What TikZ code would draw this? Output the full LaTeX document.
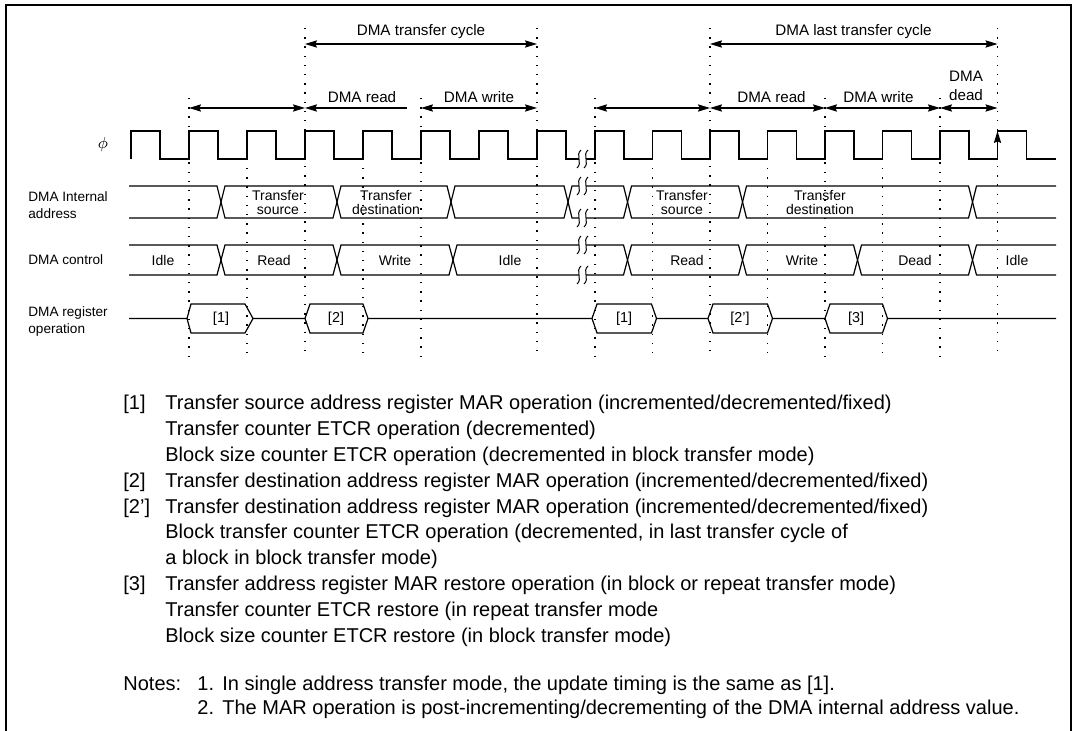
\documentclass[tikz,border=0pt]{standalone}
\usepackage{fontspec}
\setmainfont{Liberation Sans}
\usetikzlibrary{arrows.meta}
\tikzset{
  sig/.style    ={line width=0.6pt, line join=miter},
  guide/.style  ={line width=0.7pt, dash pattern=on 0.7pt off 3.9pt},
  span/.style   ={{Stealth[length=6pt,width=3.6pt,inset=0.8pt]}-{Stealth[length=6pt,width=3.6pt,inset=0.8pt]},
                  line width=0.6pt},
  spanl/.style  ={{Stealth[length=6pt,width=3.6pt,inset=0.8pt]}-, line width=0.6pt},
  cyc/.style    ={font=\fontsize{7.6}{9}\selectfont, align=center, inner sep=0pt},
  row/.style    ={font=\fontsize{6.8}{8.2}\selectfont, align=left, anchor=west,
                  inner sep=0pt},
  val/.style    ={font=\fontsize{7}{6.6}\selectfont, align=center, inner sep=0pt},
  op/.style     ={font=\fontsize{7.2}{8}\selectfont, inner sep=0pt},
  txt/.style    ={font=\fontsize{10}{12.9}\selectfont, anchor=base west,
                  inner sep=0pt},
  brkmark/.pic  ={
    \fill[white] (-1.5,-9) .. controls (-7.5,-4) and (0.5,4) .. (-5.5,9)
      -- (1.5,9) .. controls (7.5,4) and (-0.5,-4) .. (5.5,-9) -- cycle;
    \draw[line width=0.5pt] (-1.5,-9) .. controls (-7.5,-4) and (0.5,4) .. (-5.5,9);
    \draw[line width=0.5pt] (5.5,-9) .. controls (-0.5,-4) and (7.5,4) .. (1.5,9);}
}
\begin{document}
\begin{tikzpicture}[x=0.5pt, y=-0.5pt]
\useasboundingbox (0,0) rectangle (1076,731);
\draw[line width=1pt] (5.5,731) -- (5.5,5.5) -- (1071,5.5) -- (1071,731);

% timing guides
\foreach \x in {305,537,710,997.5} \draw[guide] (\x,28) -- (\x,357);
\foreach \x in {189,421,595,825,940} \draw[guide] (\x,98) -- (\x,357);
\foreach \x in {247,363,652.5,767.5,882.5} \draw[guide] (\x,168) -- (\x,357);

% cycle spans
\coordinate (c1) at (305,44);
\coordinate (c2) at (537,44);
\coordinate (c3) at (710,44);
\coordinate (c4) at (997.5,44);
\draw[span] (c1) -- (c2);
\draw[span] (c3) -- (c4);
\node[cyc] (tcyc) at (421,32) {DMA transfer cycle};
\node[cyc] (tlast) at (853.5,32) {DMA last transfer cycle};

\coordinate (p1) at (189,108);
\coordinate (p2) at (305,108);
\coordinate (p3) at (407,108);
\coordinate (p4) at (421,108);
\coordinate (p5) at (537,108);
\coordinate (q1) at (595,108);
\coordinate (q2) at (710,108);
\coordinate (q3) at (825,108);
\coordinate (q4) at (940,108);
\coordinate (q5) at (997.5,108);
\draw[span] (p1) -- (p2);
\draw[spanl] (p2) -- (p3);
\draw[span] (p4) -- (p5);
\draw[span] (q1) -- (q2);
\draw[span] (q2) -- (q3);
\draw[span] (q3) -- (q4);
\draw[span] (q4) -- (q5);
\node[cyc] (tread1) at (362,97) {DMA read};
\node[cyc] (twrite1) at (479,97) {DMA write};
\node[cyc] (tread2) at (771.5,97) {DMA read};
\node[cyc] (twrite2) at (878.5,97) {DMA write};
\node[cyc] (tdead) at (966,86) {DMA\\[0.6pt]dead};

% row labels
\node[font=\fontsize{8}{9}\selectfont, inner sep=0pt] (lphi) at (103,145) {$\phi$};
\node[row] (laddr) at (28,205) {DMA Internal\\address};
\node[row] (lctrl) at (28,260) {DMA control};
\node[row] (lreg) at (28,321.5) {DMA register\\operation};

% clock
\draw[sig] (131,159) \foreach \r in {131,189,...,537}
  {-- (\r,159) -- (\r,131) -- (\r+29,131) -- (\r+29,159)} -- (581,159);
\draw[sig] (584,159) \foreach \r in {595,652.5,...,998}
  {-- (\r,159) -- (\r,131) -- (\r+29,131) -- (\r+29,159)} -- (1056,159);
\draw[sig, -{Stealth[length=6pt,width=3.6pt,inset=0.8pt]}] (997.5,159) -- (997.5,131);

% internal address
\draw[sig] (129,186) -- (217,186) -- (225,218) -- (333,218) -- (341,186)
  -- (447,186) -- (455,218) -- (564,218) -- (572,186) -- (581,186);
\draw[sig] (129,218) -- (217,218) -- (225,186) -- (333,186) -- (341,218)
  -- (447,218) -- (455,186) -- (564,186) -- (572,218) -- (581,218);
\draw[sig] (584,186) -- (623.5,186) -- (631.5,218) -- (738.5,218) -- (746.5,186)
  -- (968.5,186) -- (976.5,218) -- (1056,218);
\draw[sig] (584,218) -- (623.5,218) -- (631.5,186) -- (738.5,186) -- (746.5,218)
  -- (968.5,218) -- (976.5,186) -- (1056,186);
\node[val] (asrc1) at (278,202.5) {Transfer\\source};
\node[val] (adst1) at (386,202.5) {Transfer\\destination};
\node[val] (asrc2) at (682,202.5) {Transfer\\source};
\node[val] (adst2) at (820,202.5) {Transfer\\destination};

% control
\draw[sig] (129,245) -- (217,245) -- (225,275) -- (333,275) -- (341,245)
  -- (449,245) -- (457,275) -- (581,275);
\draw[sig] (129,275) -- (217,275) -- (225,245) -- (333,245) -- (341,275)
  -- (449,275) -- (457,245) -- (581,245);
\draw[sig] (584,245) -- (623.5,245) -- (631.5,275) -- (738.5,275) -- (746.5,245)
  -- (853.5,245) -- (861.5,275) -- (968.5,275) -- (976.5,245) -- (1056,245);
\draw[sig] (584,275) -- (623.5,275) -- (631.5,245) -- (738.5,245) -- (746.5,275)
  -- (853.5,275) -- (861.5,245) -- (968.5,245) -- (976.5,275) -- (1056,275);
\node[val] (cidle1) at (163,260) {Idle};
\node[val] (cread1) at (274,260) {Read};
\node[val] (cwrite1) at (395,260) {Write};
\node[val] (cidle2) at (510,260) {Idle};
\node[val] (cread2) at (687,260) {Read};
\node[val] (cwrite2) at (802,260) {Write};
\node[val] (cdead) at (915,260) {Dead};
\node[val] (cidle3) at (1017,260) {Idle};

% breaks
\pic at (582.5,159) {brkmark};
\pic at (582.5,186) {brkmark};
\pic at (582.5,218) {brkmark};
\pic at (582.5,245) {brkmark};
\pic at (582.5,275) {brkmark};

% register operation
\draw[sig] (129,318.5) -- (187,318.5) -- (191,304) -- (245,304) -- (253,318.5)
  -- (305,318.5) -- (310,304) -- (363,304) -- (368,318.5) -- (592,318.5)
  -- (597,304) -- (651.5,304) -- (656.5,318.5) -- (708,318.5) -- (713,304)
  -- (767.5,304) -- (772.5,318.5) -- (825,318.5) -- (830,304) -- (882.5,304)
  -- (887.5,318.5) -- (1056,318.5);
\draw[sig] (187,318.5) -- (191,333) -- (245,333) -- (253,318.5);
\draw[sig] (305,318.5) -- (310,333) -- (363,333) -- (368,318.5);
\draw[sig] (592,318.5) -- (597,333) -- (651.5,333) -- (656.5,318.5);
\draw[sig] (708,318.5) -- (713,333) -- (767.5,333) -- (772.5,318.5);
\draw[sig] (825,318.5) -- (830,333) -- (882.5,333) -- (887.5,318.5);
\node[op] (r1a) at (221,318.5) {[1]};
\node[op] (r2) at (336,318.5) {[2]};
\node[op] (r1b) at (624,318.5) {[1]};
\node[op] (r2p) at (740,318.5) {[2']};
\node[op] (r3) at (856,318.5) {[3]};

% legend
\node[txt] (items) at (123,410) {\begin{tabular}[t]{@{}p{21pt}@{}l@{}}
{[1]} & Transfer source address register MAR operation (incremented/decremented/fixed)\\
 & Transfer counter ETCR operation (decremented)\\
 & Block size counter ETCR operation (decremented in block transfer mode)\\
{[2]} & Transfer destination address register MAR operation (incremented/decremented/fixed)\\
{[2']} & Transfer destination address register MAR operation (incremented/decremented/fixed)\\
 & Block transfer counter ETCR operation (decremented, in last transfer cycle of\\
 & a block in block transfer mode)\\
{[3]} & Transfer address register MAR restore operation (in block or repeat transfer mode)\\
 & Transfer counter ETCR restore (in repeat transfer mode\\
 & Block size counter ETCR restore (in block transfer mode)
\end{tabular}};
\node[txt] (notes) at (123,690) {Notes:};
\node[txt] (n1) at (197,690) {1.};
\node[txt] (n1t) at (222,690) {In single address transfer mode, the update timing is the same as [1].};
\node[txt] (n2) at (197,714) {2.};
\node[txt] (n2t) at (222,714) {The MAR operation is post-incrementing/decrementing of the DMA internal address value.};
\end{tikzpicture}
\end{document}
